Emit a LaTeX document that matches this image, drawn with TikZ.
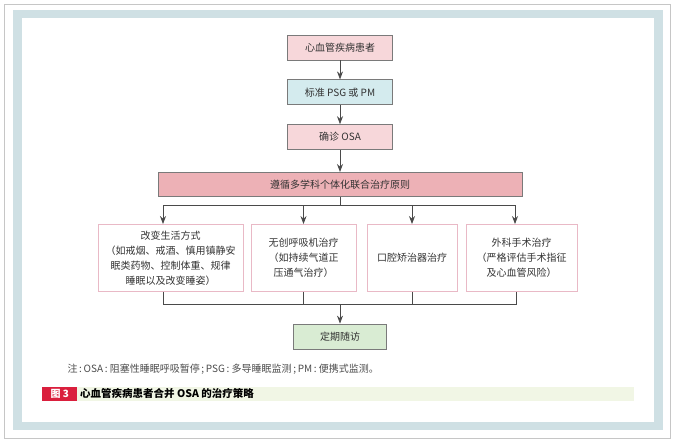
\documentclass[tikz,border=0pt]{standalone}
\usepackage{fontspec}
\setmainfont{Noto Sans CJK SC}
\usetikzlibrary{arrows.meta,positioning}

\definecolor{bandblue}{HTML}{CFE0E4}
\definecolor{pinkfill}{HTML}{F7D7DA}
\definecolor{bluefill}{HTML}{D4EBEE}
\definecolor{rosefill}{HTML}{EDB1B6}
\definecolor{pinkline}{HTML}{E9B9C6}
\definecolor{greenfill}{HTML}{D9ECD3}
\definecolor{boxline}{HTML}{7A7A7A}
\definecolor{wireline}{HTML}{4A4A4A}
\definecolor{capbar}{HTML}{F1F6E5}
\definecolor{capred}{HTML}{DA1F3D}

\begin{document}
\begin{tikzpicture}[x=1pt,y=-1pt,>={Stealth[length=8pt,width=6pt]},node distance=19pt,
    every node/.style={font=\fontsize{10}{15}\selectfont,text=black!80},
    flowbox/.style={draw=boxline,line width=0.8pt,minimum width=105pt,minimum height=25pt,inner sep=0pt,align=center},
    treatbox/.style={draw=pinkline,line width=0.9pt,fill=white,minimum height=67pt,inner sep=0pt,align=center},
    wire/.style={draw=wireline,line width=0.8pt}]
      \useasboundingbox (0,0) rectangle (676,442);
      \draw[gray!45,line width=1pt] (4,4) rectangle (670,438);
      \fill[bandblue] (13,10) rectangle (663,430);
      \fill[white] (22,18) rectangle (654,422);

      \node[flowbox,fill=pinkfill] (patient) at (340,47.5) {心血管疾病患者};
      \node[flowbox,fill=bluefill] (psg) [below=of patient] {标准 PSG 或 PM};
      \node[flowbox,fill=pinkfill] (osa) [below=of psg] {确诊 OSA};
      \node[flowbox,fill=rosefill,minimum width=364pt,minimum height=24pt] (rule) [below=22pt of osa] {遵循多学科个体化联合治疗原则};

      \node[treatbox,minimum width=145pt] (life) at (170.5,258) {改变生活方式\\（如戒烟、戒酒、慎用镇静安\\眠类药物、控制体重、规律\\睡眠以及改变睡姿）};
      \node[treatbox,minimum width=105pt] (cpap) at (303.5,258) {无创呼吸机治疗\\（如持续气道正\\压通气治疗）};
      \node[treatbox,minimum width=90pt] (oral) at (412,258) {口腔矫治器治疗};
      \node[treatbox,minimum width=111pt] (surgery) at (521.5,258) {外科手术治疗\\（严格评估手术指征\\及心血管风险）};

      \node[flowbox,fill=greenfill,minimum width=93pt] (followup) at (340,336.5) {定期随访};

      \coordinate (split) at (340,205);
      \coordinate (splitL) at (163,205);
      \coordinate (splitR) at (515,205);
      \coordinate (join) at (340,304);
      \coordinate (joinL) at (163,304);
      \coordinate (joinR) at (516,304);

      \draw[wire,->] (patient) -- (psg);
      \draw[wire,->] (psg) -- (osa);
      \draw[wire,->] (osa) -- (rule);
      \draw[wire] (rule) -- (split);
      \draw[wire] (splitL) -- (splitR);
      \draw[wire,->] (splitL) -- (splitL |- life.north);
      \draw[wire,->] (cpap.north |- split) -- (cpap);
      \draw[wire,->] (oral.north |- split) -- (oral);
      \draw[wire,->] (splitR) -- (splitR |- surgery.north);

      \draw[wire] (joinL |- life.south) -- (joinL) -- (joinR) -- (joinR |- surgery.south);
      \draw[wire] (cpap) -- (cpap |- join);
      \draw[wire] (oral) -- (oral |- join);
      \draw[wire,->] (join) -- (followup);

      \node[anchor=west,font=\fontsize{10}{11}\selectfont,text=black!70] (note) at (64,369) {注\,:\,OSA\,:\ 阻塞性睡眠呼吸暂停\,;\,PSG\,:\ 多导睡眠监测\,;\,PM\,:\ 便携式监测。};

      \fill[capbar] (77,387) rectangle (634,401);
      \node[fill=capred,minimum width=35pt,minimum height=14pt,inner sep=0pt,anchor=north west,text=white,font=\fontsize{10}{11}\selectfont\bfseries] (fignum) at (42,387) {图 3};
      \node[anchor=west,inner sep=0pt,text=black,font=\fontsize{10.5}{12}\selectfont\bfseries] (caption) at (80,394) {心血管疾病患者合并 OSA 的治疗策略};
\end{tikzpicture}
\end{document}
